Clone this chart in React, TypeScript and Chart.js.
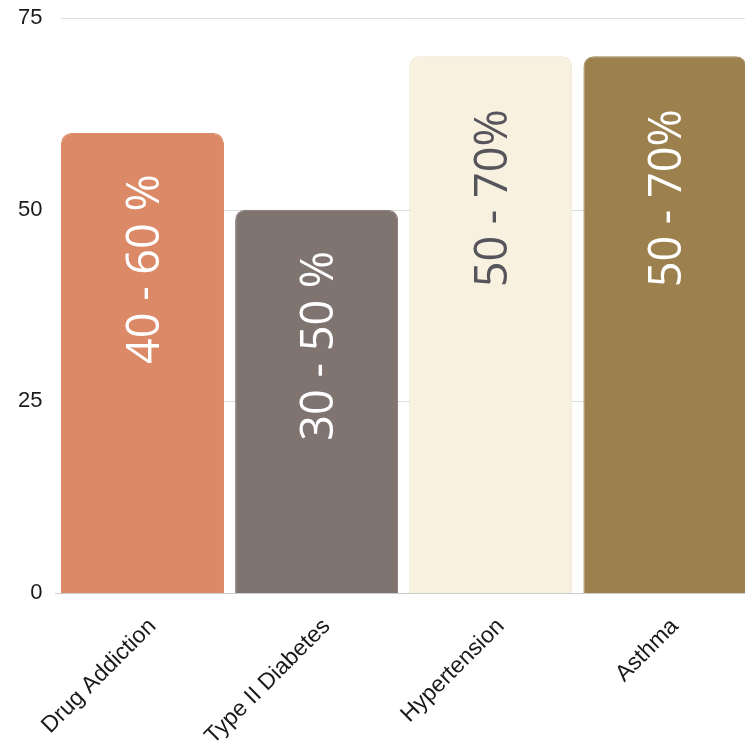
import React, { useEffect, useRef } from "react";
import { Chart, registerables } from "chart.js";

Chart.register(...registerables);

const categories = ["Drug Addiction", "Type II Diabetes", "Hypertension", "Asthma"];
const values = [60, 50, 70, 70];
const barLabels = ["40 - 60 %", "30 - 50 %", "50 - 70%", "50 - 70%"];
const barColors = ["#DC8967", "#807471", "#F8F1E0", "#9C814E"];
const borderColors = ["#DC8967", "#807471", "#EAE2CC", "#9C814E"];
const labelColors = ["#ffffff", "#ffffff", "#55555B", "#ffffff"];
const yTicks = [0, 25, 50, 75];

const gridPlugin = {
  id: "customGrid",
  beforeDatasetsDraw(chart: any) {
    const { ctx, chartArea, scales } = chart;
    const meta = chart.getDatasetMeta(0);
    const first = meta.data[0] as any;
    const left = first.x - first.width / 2;
    ctx.save();
    ctx.strokeStyle = "#dddddd";
    ctx.lineWidth = 1;
    yTicks.forEach((t) => {
      if (t === 0) return;
      const y = Math.round(scales.y.getPixelForValue(t)) + 0.5;
      ctx.beginPath();
      ctx.moveTo(left, y);
      ctx.lineTo(chartArea.right, y);
      ctx.stroke();
    });
    ctx.restore();
  },
};

const labelPlugin = {
  id: "barLabels",
  afterDatasetsDraw(chart: any) {
    const { ctx } = chart;
    const meta = chart.getDatasetMeta(0);
    const size = 45;
    ctx.save();
    ctx.font = `400 ${size}px "Open Sans"`;
    meta.data.forEach((bar: any, i: number) => {
      ctx.save();
      ctx.translate(bar.x, bar.y + 231);
      ctx.rotate(-Math.PI / 2);
      ctx.textAlign = "left";
      ctx.textBaseline = "alphabetic";
      ctx.fillStyle = labelColors[i];
      ctx.fillText(barLabels[i], 0, size * 0.357);
      ctx.restore();
    });
    ctx.restore();
  },
};

export default function App() {
  const ref = useRef<HTMLCanvasElement | null>(null);

  useEffect(() => {
    if (!ref.current) return;
    const chart = new Chart(ref.current, {
      type: "bar",
      data: {
        labels: categories,
        datasets: [
          {
            data: values,
            backgroundColor: barColors,
            borderColor: borderColors,
            borderWidth: 1,
            borderRadius: 10,
            borderSkipped: "start",
            barPercentage: 0.936,
            categoryPercentage: 1,
          },
        ],
      },
      options: {
        animation: false,
        responsive: true,
        maintainAspectRatio: false,
        layout: { padding: { top: 18, left: 0, right: 0, bottom: 0 } },
        plugins: { legend: { display: false }, tooltip: { enabled: false } },
        scales: {
          y: {
            min: 0,
            max: 75,
            afterFit: (s: any) => {
              s.width = 55.4;
              s.paddingTop = 0;
              s.paddingBottom = 0;
            },
            afterBuildTicks: (s: any) => {
              s.ticks = yTicks.map((v) => ({ value: v }));
            },
            grid: { display: false, drawTicks: false },
            border: { display: false },
            ticks: {
              padding: 13,
              color: "#1a1a1a",
              font: { family: "Liberation Sans", size: 22 },
            },
          },
          x: {
            afterFit: (s: any) => {
              s.height = 148;
              s.paddingLeft = 0;
              s.paddingRight = 0;
            },
            grid: { display: false, drawTicks: false },
            border: { display: true, color: "#cccccc", width: 1 },
            ticks: {
              minRotation: 45,
              maxRotation: 45,
              padding: 20,
              labelOffset: 10,
              color: "#1a1a1a",
              font: { family: "Liberation Sans", size: 23 },
            },
          },
        },
      },
      plugins: [gridPlugin, labelPlugin],
    });
    return () => chart.destroy();
  }, []);

  return (
    <div style={{ position: "fixed", left: 0, top: 0, width: 745, height: 741, overflow: "hidden", background: "#fff" }}>
      <div style={{ position: "absolute", left: 0, top: 0, width: 752, height: 741 }}>
        <canvas ref={ref} />
      </div>
    </div>
  );
}
